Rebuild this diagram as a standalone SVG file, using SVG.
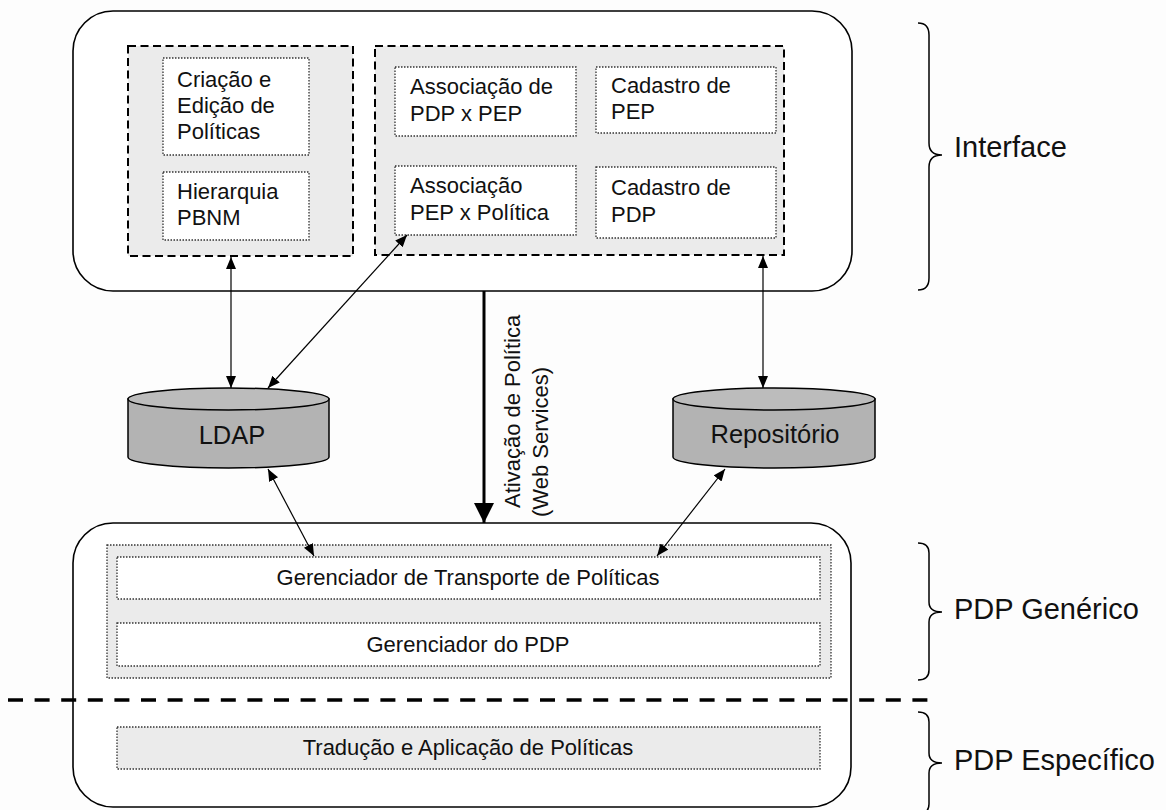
<svg xmlns="http://www.w3.org/2000/svg" width="1166" height="810" viewBox="0 0 1166 810">
<style>
text{font-family:"Liberation Sans",Arial,sans-serif;fill:#111}
.t{font-size:22px}
.c{font-size:22px;text-anchor:middle}
.big{font-size:25.5px;text-anchor:middle}
.lab{font-size:29px}
.round{fill:#fff;stroke:#000;stroke-width:1.6}
.dash{fill:#ebebeb;stroke:#000;stroke-width:2;stroke-dasharray:8 4.5}
.dot{fill:#fff;stroke:#333;stroke-width:1.3;stroke-dasharray:1.5 1.5}
.dotg{fill:#ebebeb;stroke:#333;stroke-width:1.3;stroke-dasharray:1.5 1.5}
.cyl{fill:#b3b3b3;stroke:#000;stroke-width:1.5}
.cyltop{fill:#bcbcbc;stroke:#000;stroke-width:1.5}
.conn{fill:none;stroke:#000;stroke-width:1.2}
.brace{fill:none;stroke:#000;stroke-width:1.5}
</style>
<defs>
<marker id="ah" markerUnits="userSpaceOnUse" markerWidth="13" markerHeight="11" refX="12" refY="5" orient="auto-start-reverse">
<path d="M0,0 L12,5 L0,10 z" fill="#000"/>
</marker>
<marker id="ahb" markerUnits="userSpaceOnUse" markerWidth="21" markerHeight="21" refX="20" refY="10" orient="auto">
<path d="M0,0 L20,10 L0,20 z" fill="#000"/>
</marker>
</defs>
<rect width="1166" height="810" fill="#fdfdfd"/>

<g id="interface">
<rect class="round" x="73" y="11" width="779" height="280" rx="40" ry="40"/>
<rect class="dash" x="128" y="46" width="225" height="210"/>
<rect class="dash" x="375" y="46" width="409" height="209"/>
</g>
<g id="criacao">
<rect class="dot" x="163" y="58" width="146" height="97"/>
<text class="t" x="177" y="87">Criação e</text>
<text class="t" x="177" y="113">Edição de</text>
<text class="t" x="177" y="139">Políticas</text>
</g>
<g id="hierarquia">
<rect class="dot" x="163" y="172" width="146" height="68"/>
<text class="t" x="177" y="199">Hierarquia</text>
<text class="t" x="177" y="225">PBNM</text>
</g>
<g id="assoc-pdp-pep">
<rect class="dot" x="395" y="67" width="181" height="69"/>
<text class="t" x="410" y="94">Associação de</text>
<text class="t" x="410" y="121">PDP x PEP</text>
</g>
<g id="cad-pep">
<rect class="dot" x="596" y="67" width="180" height="66"/>
<text class="t" x="611" y="93">Cadastro de</text>
<text class="t" x="611" y="119">PEP</text>
</g>
<g id="assoc-pep-pol">
<rect class="dot" x="395" y="166" width="181" height="69"/>
<text class="t" x="410" y="193">Associação</text>
<text class="t" x="410" y="220">PEP x Política</text>
</g>
<g id="cad-pdp">
<rect class="dot" x="596" y="167" width="180" height="71"/>
<text class="t" x="611" y="195">Cadastro de</text>
<text class="t" x="611" y="222">PDP</text>
</g>

<g id="ldap">
<path class="cyl" d="M128,399 L128,457 A100.5,11 0 0 0 329,457 L329,399 z"/>
<ellipse class="cyltop" cx="228.5" cy="399" rx="100.5" ry="11"/>
<text class="big" x="232" y="444">LDAP</text>
</g>
<g id="repositorio">
<path class="cyl" d="M673,399 L673,457 A101,11 0 0 0 875,457 L875,399 z"/>
<ellipse class="cyltop" cx="774" cy="399" rx="101" ry="11"/>
<text class="big" x="775" y="443">Repositório</text>
</g>

<g id="pdp">
<rect class="round" x="73" y="523" width="778" height="284" rx="40" ry="40"/>
<rect class="dotg" x="107" y="545" width="724" height="133"/>
</g>
<g id="transporte">
<rect class="dot" x="117" y="557" width="703" height="42"/>
<text class="c" x="468" y="585">Gerenciador de Transporte de Políticas</text>
</g>
<g id="gerenciador">
<rect class="dot" x="117" y="623" width="703" height="43"/>
<text class="c" x="468" y="652">Gerenciador do PDP</text>
</g>
<g id="traducao">
<rect class="dotg" x="117" y="727" width="703" height="42"/>
<text class="c" x="468" y="755">Tradução e Aplicação de Políticas</text>
</g>

<g id="separator">
<line x1="8" y1="700" x2="928" y2="700" stroke="#000" stroke-width="3.6" stroke-dasharray="15 11.6"/>
</g>

<g id="connectors">
<line class="conn" x1="231" y1="257" x2="231" y2="388" marker-start="url(#ah)" marker-end="url(#ah)"/>
<line class="conn" x1="407" y1="235" x2="268" y2="388" marker-start="url(#ah)" marker-end="url(#ah)"/>
<line class="conn" x1="763" y1="256" x2="763" y2="388" marker-start="url(#ah)" marker-end="url(#ah)"/>
<line class="conn" x1="268" y1="469" x2="314" y2="556" marker-start="url(#ah)" marker-end="url(#ah)"/>
<line class="conn" x1="725" y1="469" x2="657" y2="556" marker-start="url(#ah)" marker-end="url(#ah)"/>
<line x1="484" y1="291" x2="484" y2="523" stroke="#000" stroke-width="3" marker-end="url(#ahb)"/>
<text class="t" transform="translate(520,508) rotate(-90)">Ativação de Política</text>
<text class="t" transform="translate(548,517) rotate(-90)">(Web Services)</text>
</g>

<g id="labels">
<path class="brace" d="M918,23 Q929,23 929,35 L929,143 Q929,155 942,155 Q929,155 929,167 L929,278 Q929,290 918,290"/>
<text class="lab" x="954" y="157">Interface</text>
<path class="brace" d="M918,543 Q929,543 929,553 L929,602 Q929,612 942,612 Q929,612 929,622 L929,670 Q929,680 918,680"/>
<text class="lab" x="954" y="619">PDP Genérico</text>
<path class="brace" d="M918,712 Q929,712 929,722 L929,753 Q929,763 942,763 Q929,763 929,773 L929,804 Q929,814 918,814"/>
<text class="lab" x="954" y="770">PDP Específico</text>
</g>
</svg>
